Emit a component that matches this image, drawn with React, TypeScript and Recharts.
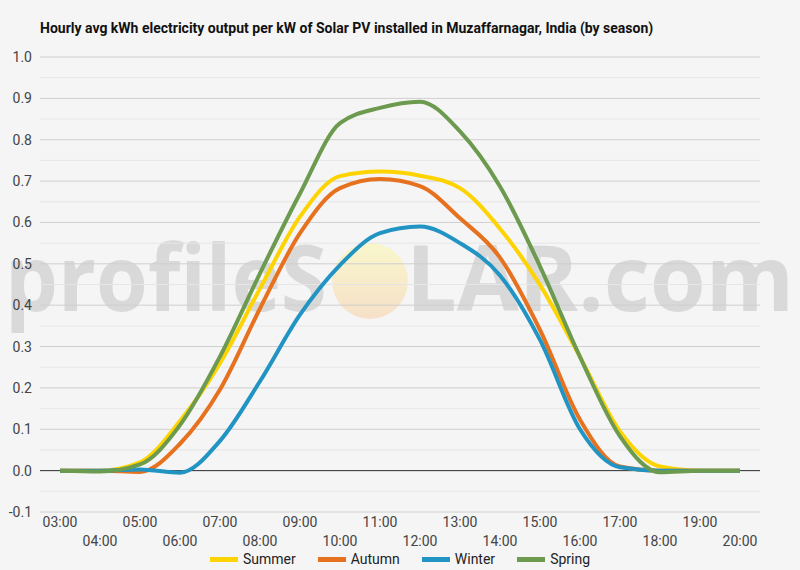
import { LineChart, Line, XAxis, YAxis, CartesianGrid, ReferenceLine, Legend } from 'recharts';

const hours = [
  '03:00', '04:00', '05:00', '06:00', '07:00', '08:00', '09:00', '10:00', '11:00',
  '12:00', '13:00', '14:00', '15:00', '16:00', '17:00', '18:00', '19:00', '20:00',
];

// kWh per kW installed, hourly average for each season
const summer = [0, 0, 0.02, 0.12, 0.26, 0.44, 0.614, 0.712, 0.723, 0.713, 0.683, 0.585, 0.449, 0.275, 0.095, 0.01, 0, 0];
const autumn = [0, 0, -0.003, 0.065, 0.196, 0.392, 0.574, 0.683, 0.705, 0.688, 0.61, 0.515, 0.34, 0.123, 0.01, 0, 0, 0];
const winter = [0, 0, 0.003, -0.005, 0.072, 0.216, 0.377, 0.497, 0.574, 0.59, 0.55, 0.472, 0.316, 0.1, 0.008, 0, 0, 0];
const spring = [0, -0.002, 0.015, 0.11, 0.276, 0.477, 0.67, 0.84, 0.877, 0.892, 0.82, 0.687, 0.494, 0.275, 0.083, -0.004, 0, 0];

const yTicks = [-0.1, 0, 0.1, 0.2, 0.3, 0.4, 0.5, 0.6, 0.7, 0.8, 0.9, 1.0];
const minorTicks = [-0.05, 0.05, 0.15, 0.25, 0.35, 0.45, 0.55, 0.65, 0.75, 0.85, 0.95];

const seasons = [
  { key: 'summer', name: 'Summer', color: '#fdd402', values: summer },
  { key: 'autumn', name: 'Autumn', color: '#e6711e', values: autumn },
  { key: 'winter', name: 'Winter', color: '#2294c4', values: winter },
  { key: 'spring', name: 'Spring', color: '#6c9a4f', values: spring },
];

const data = hours.map((hour, i) => {
  const row: Record<string, string | number> = { hour };
  seasons.forEach((s) => {
    row[s.key] = s.values[i];
  });
  return row;
});

const FONT = 'Roboto, sans-serif';

// odd hours on the upper row, even hours staggered below
function HourTick(props: any) {
  const { x, y, payload, index } = props;
  const lower = index % 2 === 1;
  return (
    <text x={x} y={y + (lower ? 26 : 7)} textAnchor="middle" fill="#444" fontSize={14} fontFamily={FONT}>
      {payload.value}
    </text>
  );
}

function SeasonLegend() {
  return (
    <div style={{ display: 'flex', justifyContent: 'center', height: 18, alignItems: 'center', fontFamily: FONT, fontSize: 14, color: '#222' }}>
      {seasons.map((s) => (
        <span key={s.key} style={{ display: 'flex', alignItems: 'center', margin: '0 11px' }}>
          <span style={{ width: 28, height: 5, background: s.color, marginRight: 5 }} />
          {s.name}
        </span>
      ))}
    </div>
  );
}

function Backdrop() {
  return (
    <svg width={800} height={570} style={{ position: 'absolute', left: 0, top: 0 }}>
      <defs>
        <linearGradient id="sun" x1="0" y1="0" x2="0" y2="1">
          <stop offset="0%" stopColor="#f9f7cc" />
          <stop offset="100%" stopColor="#f6e0c8" />
        </linearGradient>
      </defs>
      <rect width={800} height={570} fill="#f5f5f5" />
      <text x={40} y={33} fontFamily={FONT} fontWeight="bold" fontSize={14} fill="#111">
        Hourly avg kWh electricity output per kW of Solar PV installed in Muzaffarnagar, India (by season)
      </text>
      <g fontFamily="'Open Sans', sans-serif" fontWeight={700} fontSize={91} fill="#d9d9d9">
        <text x={5} y={311} textLength={322} lengthAdjust="spacingAndGlyphs">profileS</text>
        <circle cx={370} cy={281} r={38} fill="url(#sun)" />
        <text x={406} y={311} textLength={388} lengthAdjust="spacingAndGlyphs">LAR.com</text>
      </g>
    </svg>
  );
}

export default function App() {
  return (
    <div style={{ position: 'relative', width: 800, height: 570 }}>
      <style>{'body{margin:0;background:#f5f5f5}'}</style>
      <Backdrop />
      <div style={{ position: 'absolute', left: 0, top: 0 }}>
        <LineChart width={800} height={570} data={data} margin={{ top: 57, right: 40, bottom: 2, left: 0 }} style={{ fontFamily: FONT }}>
          {minorTicks.map((v) => (
            <ReferenceLine key={v} y={v} stroke="#e6e6e6" strokeWidth={1} />
          ))}
          <CartesianGrid vertical={false} stroke="#cfcfcf" />
          <ReferenceLine y={0} stroke="#333" strokeWidth={1} />
          <XAxis
            dataKey="hour"
            interval={0}
            height={38}
            axisLine={false}
            tickLine={false}
            padding={{ left: 20, right: 20 }}
            tick={<HourTick />}
          />
          <YAxis
            width={40}
            domain={[-0.1, 1.0]}
            ticks={yTicks}
            axisLine={false}
            tickLine={false}
            tickFormatter={(v: number) => v.toFixed(1)}
            tick={{ fill: '#444', fontSize: 14 }}
          />
          <Legend verticalAlign="bottom" content={<SeasonLegend />} wrapperStyle={{ left: 0, width: 800 }} />
          {seasons.map((s) => (
            <Line
              key={s.key}
              type="monotone"
              dataKey={s.key}
              name={s.name}
              stroke={s.color}
              strokeWidth={4}
              dot={false}
              activeDot={false}
              isAnimationActive={false}
            />
          ))}
        </LineChart>
      </div>
    </div>
  );
}
